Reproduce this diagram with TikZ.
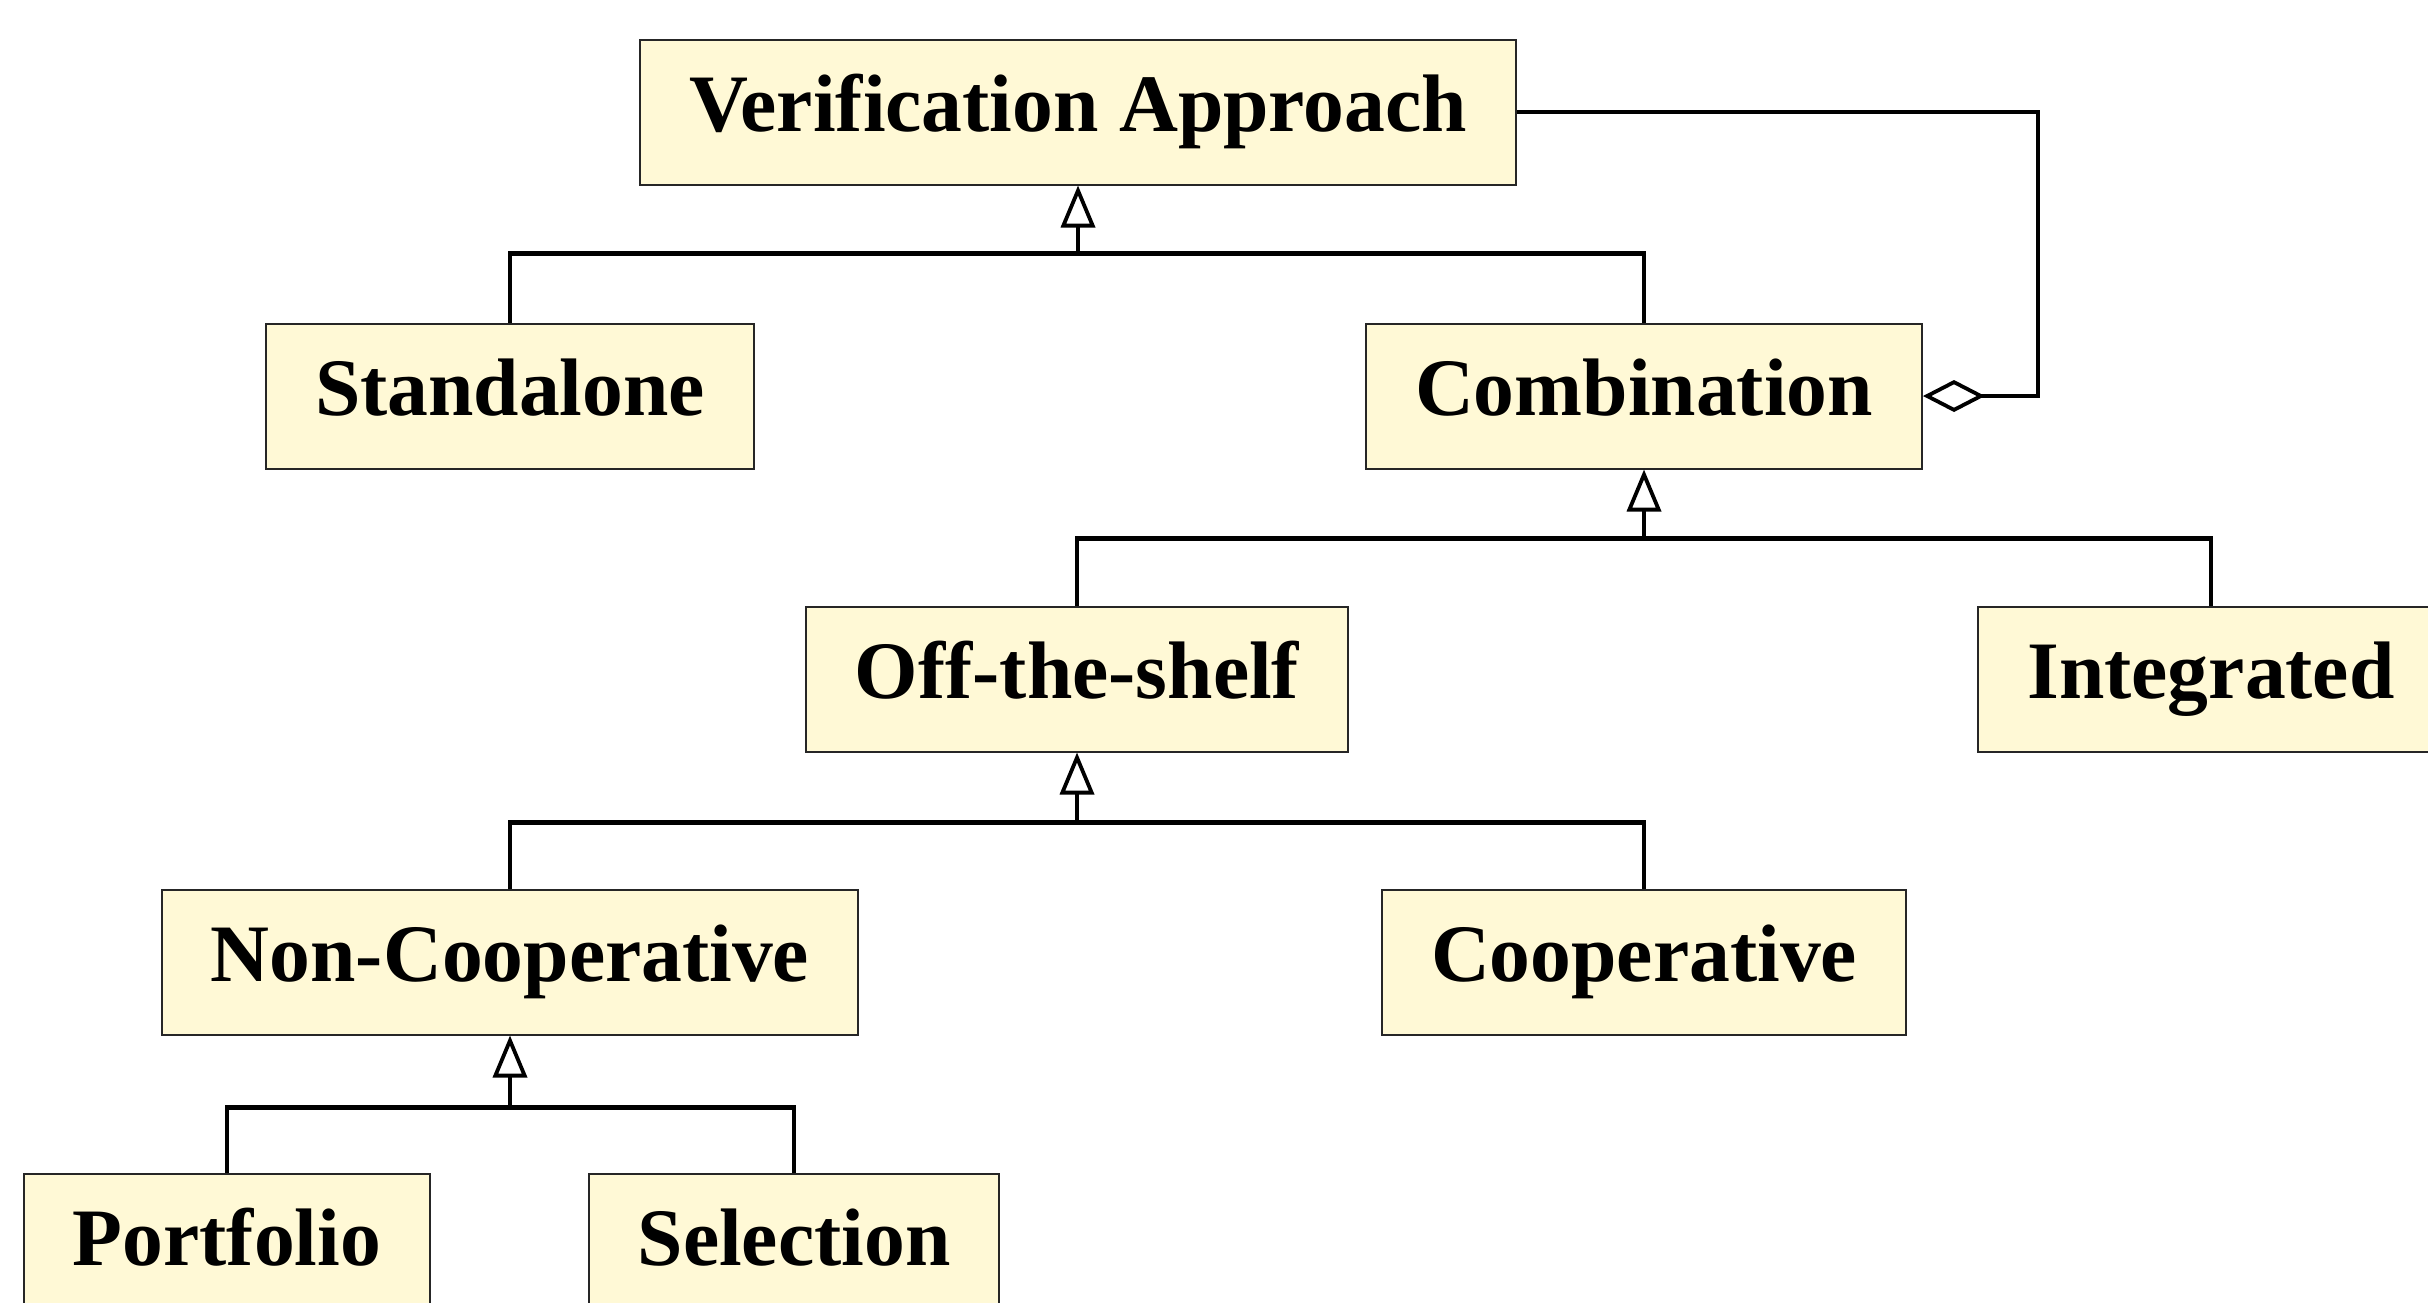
\documentclass[tikz,border=0pt]{standalone}
\usepackage{fontspec}
\setmainfont{Liberation Serif}
\usetikzlibrary{arrows.meta,calc}
\definecolor{boxfill}{HTML}{FFF9D6}
\tikzset{
  cls/.style={draw=black!85, line width=1pt, fill=boxfill, rectangle,
    inner xsep=24.5pt, inner ysep=0pt, minimum height=72.5pt,
    text height=28.4pt, text depth=9pt,
    font=\fontsize{40.8pt}{48pt}\selectfont\bfseries},
  conn/.style={line width=2.4pt, line join=miter},
  gen/.style={conn, -{Triangle[open, length=21pt, width=17pt, line width=1.9pt]}},
  agg/.style={conn, {Diamond[open, length=31pt, width=16pt, line width=1.9pt]}-}
}
\begin{document}
\begin{tikzpicture}[x=0.5pt, y=-0.5pt]
\fill[white] (0,0) rectangle (2428,1302);
\useasboundingbox (0,0) rectangle (2428,1302);
\clip (0,0) rectangle (2428,1302);
\node[cls] (va)  at (1078,112)  {Verification Approach};
\node[cls] (sa)  at (510,396)   {Standalone};
\node[cls] (co)  at (1644,396)  {Combination};
\node[cls] (ots) at (1077,679)  {Off-the-shelf};
\node[cls] (int) at (2211,679)  {Integrated};
\node[cls] (nc)  at (510,962)   {Non-Cooperative};
\node[cls] (cp)  at (1644,962)  {Cooperative};
\node[cls] (pf)  at (227,1246)  {Portfolio};
\node[cls] (se)  at (794,1246)  {Selection};
% junctions
\coordinate (j1) at ($(va.south)+(0,68)$);
\coordinate (j2) at ($(co.south)+(0,69)$);
\coordinate (j3) at ($(ots.south)+(0,70)$);
\coordinate (j4) at ($(nc.south)+(0,72)$);
\coordinate (aggx) at (2038,0);
% generalisations
\draw[conn] (sa.north) |- (j1) -| (co.north);
\draw[gen] (j1) -- (va.south);
\draw[conn] (ots.north) |- (j2) -| (int.north);
\draw[gen] (j2) -- (co.south);
\draw[conn] (nc.north) |- (j3) -| (cp.north);
\draw[gen] (j3) -- (ots.south);
\draw[conn] (pf.north) |- (j4) -| (se.north);
\draw[gen] (j4) -- (nc.south);
% aggregation
\draw[agg] (co.east) -- (co.east -| aggx) |- (va.east);
\end{tikzpicture}
\end{document}
